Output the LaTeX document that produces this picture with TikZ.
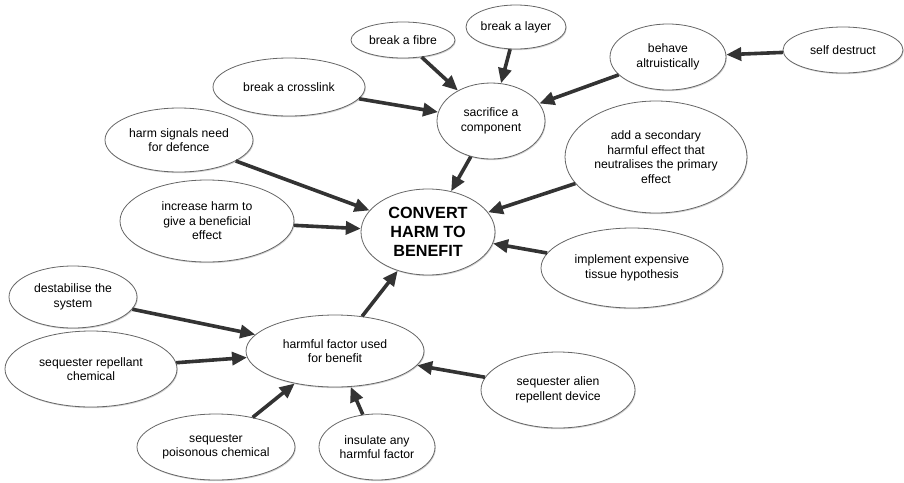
\documentclass[tikz,border=0pt]{standalone}
\usepackage{fontspec}
\setmainfont{Liberation Sans}
\usetikzlibrary{shapes.geometric,arrows.meta,shadows}
\begin{document}
\begin{tikzpicture}[x=1pt,y=-1pt,
   idea/.style={ellipse,draw=black!60,line width=0.8pt,fill=white,inner sep=0pt,
      drop shadow={shadow xshift=0.8pt,shadow yshift=-1.2pt,opacity=0.35},
      align=center,font=\fontsize{12.2}{14.5}\selectfont},
   sz/.style 2 args={minimum width=#1pt,minimum height=#2pt},
   link/.style={draw=black!80,line width=3.6pt,-{Triangle[length=15pt,width=13pt]}}]
   \useasboundingbox (0,0) rectangle (904,482);
   \node[idea,sz={104}{36}] (fibre) at (403,40) {break a fibre};
   \node[idea,sz={100}{44}] (layer) at (516,27) {break a layer};
   \node[idea,sz={116}{66}] (behave) at (668,57) {behave\\altruistically};
   \node[idea,sz={120}{46}] (selfd) at (843,50) {self destruct};
   \node[idea,sz={152}{58}] (crosslink) at (289,87) {break a crosslink};
   \node[idea,sz={108}{76}] (sacrifice) at (491,121) {sacrifice a\\component};
   \node[idea,sz={148}{64}] (signals) at (179,140) {harm signals need\\for defence};
   \node[idea,sz={182}{112}] (secondary) at (656,157) {add a secondary\\harmful effect that\\neutralises the primary\\effect};
   \node[idea,sz={174}{82}] (increase) at (207,221) {increase harm to\\give a beneficial\\effect};
   \node[idea,sz={134}{86},font=\fontsize{16.2}{19.2}\selectfont\bfseries] (convert) at (428,232) {CONVERT\\HARM TO\\BENEFIT};
   \node[idea,sz={182}{80}] (tissue) at (632,268) {implement expensive\\tissue hypothesis};
   \node[idea,sz={128}{62}] (destab) at (73,297) {destabilise the\\system};
   \node[idea,sz={178}{72}] (factor) at (335,351) {harmful factor used\\for benefit};
   \node[idea,sz={172}{76}] (repellant) at (91,369) {sequester repellant\\chemical};
   \node[idea,sz={154}{76}] (alien) at (558,390) {sequester alien\\repellent device};
   \node[idea,sz={158}{66}] (poison) at (216,447) {sequester\\poisonous chemical};
   \node[idea,sz={116}{66}] (insulate) at (377,447) {insulate any\\harmful factor};
   \draw[link] (fibre) -- (sacrifice);
   \draw[link] (layer) -- (sacrifice);
   \draw[link] (crosslink) -- (sacrifice);
   \draw[link] (behave) -- (sacrifice);
   \draw[link] (selfd) -- (behave);
   \draw[link] (sacrifice) -- (convert);
   \draw[link] (signals) -- (convert);
   \draw[link] (increase) -- (convert);
   \draw[link] (secondary) -- (convert);
   \draw[link] (tissue) -- (convert);
   \draw[link] (factor) -- (convert);
   \draw[link] (destab) -- (factor);
   \draw[link] (repellant) -- (factor);
   \draw[link] (poison) -- (factor);
   \draw[link] (insulate) -- (factor);
   \draw[link] (alien) -- (factor);
\end{tikzpicture}
\end{document}
